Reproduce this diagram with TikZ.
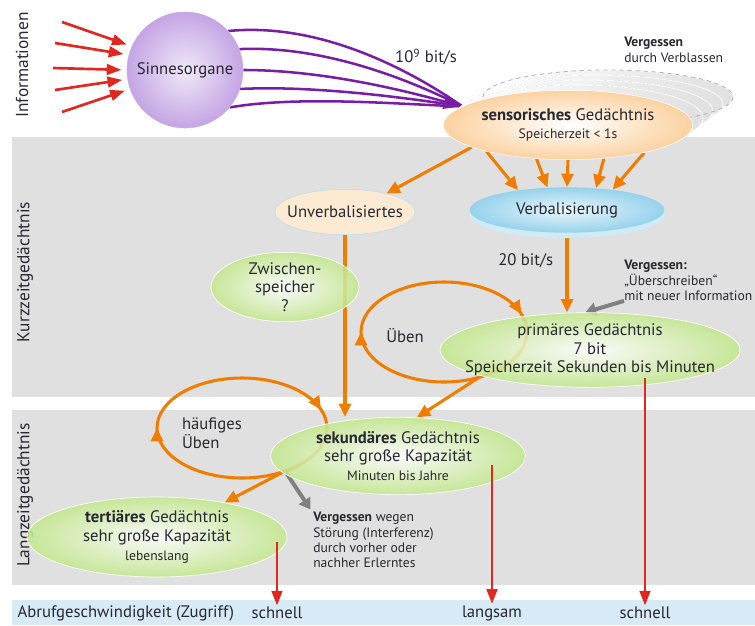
\documentclass[tikz,border=0pt]{standalone}
\usepackage{fontspec}
\setmainfont{PT Sans}
\usepackage{tikz}
\usetikzlibrary{arrows.meta, positioning, shapes.geometric, decorations.markings, shadows}
\usepackage{xcolor}
\definecolor{ink}{RGB}{40,40,48}
\definecolor{flow}{RGB}{240,125,0}
\definecolor{signal}{RGB}{225,40,30}
\definecolor{sense}{RGB}{120,30,165}
\definecolor{fade}{RGB}{128,128,128}
\definecolor{band}{RGB}{224,224,224}
\definecolor{recall}{RGB}{216,234,246}
\definecolor{leaf}{RGB}{195,232,140}
\definecolor{peach}{RGB}{250,195,130}
\definecolor{sky}{RGB}{150,210,236}
\definecolor{lilac}{RGB}{196,165,228}
\pgfdeclarelayer{bands}
\pgfdeclarelayer{lines}
\pgfsetlayers{bands,lines,main}
\newcommand{\klein}{\fontsize{10.2}{11.5}\selectfont}

\begin{document}
\begin{tikzpicture}[x=0.75pt, y=-0.75pt, font=\fontsize{12.5}{14}\selectfont, text=ink,
  mem/.style={ellipse, inner xsep=-16pt, inner ysep=-4pt, align=center},
  greenmem/.style={mem, draw=white, line width=0.5pt, inner color=white, outer color=leaf, fill opacity=0.85, text opacity=1},
  ghost/.style={left color=white, right color=black!12, draw=white, line width=0.6pt},
  oarrow/.style={draw=flow, line width=2.3pt, -{Triangle[length=10pt,width=9pt]}},
  oloop/.style={draw=flow, line width=2.3pt, postaction={decorate}, decoration={markings,
    mark=at position 0.5 with {\arrow{Triangle[length=10pt,width=9pt]}},
    mark=at position 0.955 with {\arrow{Triangle[length=10pt,width=9pt]}}}},
  rarrow/.style={draw=signal, line width=2pt, -{Triangle[length=11pt,width=8pt]}},
  garrow/.style={draw=fade, line width=3pt, -{Triangle[length=8pt,width=10pt]}},
  parrow/.style={draw=sense, line width=1.9pt},
  side/.style={rotate=90, font=\fontsize{13}{14}\selectfont},
  note/.style={align=left, font=\klein, inner sep=0pt, anchor=north west}]
\useasboundingbox (0,0) rectangle (755,625);

\begin{pgfonlayer}{bands}
\fill[band] (12,137) rectangle (755,397);
\fill[band] (12,410) rectangle (755,585);
\fill[recall] (12,600) rectangle (755,625);
\end{pgfonlayer}

\node[side] (info) at (22,65) {Informationen};
\node[side] (kurz) at (25,272) {Kurzzeitgedächtnis};
\node[side] (lang) at (25,495) {Langzeitgedächtnis};

\node[circle, minimum size=87pt, inner sep=0pt, inner color=lilac!25, outer color=lilac, draw=lilac!90] (sinn) at (185,70) {Sinnesorgane};

\foreach \i in {4,3,2,1}
  \fill[ghost] (568+10*\i,125-7*\i) ellipse [x radius=125, y radius=35-2*\i];
\draw[dashed, draw=black!30, line width=0.6pt] (608,97) ellipse [x radius=125, y radius=27];

\node[mem, minimum width=187pt, minimum height=52pt, inner color=white, outer color=peach!75, draw=white] (sens) at (568,125) {\textbf{sensorisches} Gedächtnis\\{\klein Speicherzeit < 1s}};
\node[note] (verblass) at (624,37) {\textbf{Vergessen}\\durch Verblassen};
\node (bits) at (426,57) {10\textsuperscript{9} bit/s};

\node[mem, minimum width=105pt, minimum height=34pt, fill=peach!35, draw=sky!70] (unverb) at (345,212) {Unverbalisiertes};
\node[mem, minimum width=146pt, minimum height=34pt, inner color=sky!20, outer color=sky, drop shadow={shadow xshift=0pt, shadow yshift=-4pt, fill=sky!45, opacity=1}] (verb) at (567,210) {Verbalisierung};
\node[greenmem, minimum width=111pt, minimum height=52pt] (zwisch) at (285,287) {Zwischen-\\speicher\\?};
\node[greenmem, minimum width=225pt, minimum height=56pt] (prim) at (590,350) {primäres Gedächtnis\\7 bit\\Speicherzeit Sekunden bis Minuten};
\node[note] (ueberschr) at (624,260) {\textbf{Vergessen:}\\„Überschreiben“\\mit neuer Information};
\node (ueben) at (405,336) {Üben};

\node[greenmem, minimum width=191pt, minimum height=58pt] (sek) at (398,456) {\textbf{sekundäres} Gedächtnis\\sehr große Kapazität\\{\klein Minuten bis Jahre}};
\node[greenmem, minimum width=195pt, minimum height=60pt] (tert) at (157,537) {\textbf{tertiäres} Gedächtnis\\sehr große Kapazität\\{\klein lebenslang}};
\node[align=left] (haeufig) at (212,433) {häufiges\\Üben};
\node[note] (stoer) at (313,512) {\textbf{Vergessen} wegen\\Störung (Interferenz)\\durch vorher oder\\nachher Erlerntes};

\node[anchor=west, inner sep=1pt] (abruf) at (16,613) {Abrufgeschwindigkeit (Zugriff)};
\node[inner sep=1pt] (schnella) at (277,613) {schnell};
\node[inner sep=1pt] (langsam) at (492,613) {langsam};
\node[inner sep=1pt] (schnellb) at (645,613) {schnell};

\begin{pgfonlayer}{lines}
\foreach \a/\px/\py [count=\k] in {156/62/22, 165/55/43, 180/53/68, 189/55/90, 199/62/112} {
  \coordinate (reiz\k) at (\px,\py);
  \draw[rarrow, shorten >=4pt] (reiz\k) -- (sinn.\a);
}
\draw[parrow] (sinn.42) .. controls (320,22) and (410,70) .. (sens.170);
\draw[parrow] (sinn.21) .. controls (330,45) and (420,85) .. (sens.170);
\draw[parrow] (sinn.-19) .. controls (320,85) and (420,100) .. (sens.170);
\draw[parrow] (sinn.-40) .. controls (300,95) and (410,105) .. (sens.170);
\draw[parrow, -{Triangle[length=14pt,width=11pt]}] (sinn.0) .. controls (330,70) and (420,95) .. (sens.170);

\draw[oarrow] (sens.193) -- (unverb.24);
\foreach \s/\t in {198/158, 227/131, 270/90, 317/37, 340/24}
  \draw[oarrow] (sens.\s) -- (verb.\t);
\draw[oarrow] (verb.south) -- node[left=6pt, pos=0.35] (rate) {20 bit/s} (verb.south |- prim.north);
\draw[oarrow] (unverb.south) -- (unverb.south |- sek.north);

\coordinate (uebring) at (444,332);
\draw[oloop] (uebring) ellipse [x radius=83, y radius=50];
\coordinate (uebaus) at (478,378);
\draw[oarrow] (uebaus) -- (sek.64);
\coordinate (haeufring) at (242,428);
\draw[oloop] (haeufring) ellipse [x radius=85, y radius=50];
\coordinate (haeufaus) at (285,471);
\draw[oarrow] (haeufaus) -- (tert.27);

\draw[garrow] (haeufaus) -- ([shift={(-2pt,2pt)}]stoer.north west);
\draw[garrow] (ueberschr.south west) -- (prim.97);
\end{pgfonlayer}

\draw[rarrow] ([yshift=-4pt]tert.center -| schnella.north) -- (schnella.north);
\draw[rarrow] ([yshift=-7pt]sek.center -| langsam.north) -- (langsam.north);
\draw[rarrow] ([yshift=-21pt]prim.center -| schnellb.north) -- (schnellb.north);
\end{tikzpicture}
\end{document}
